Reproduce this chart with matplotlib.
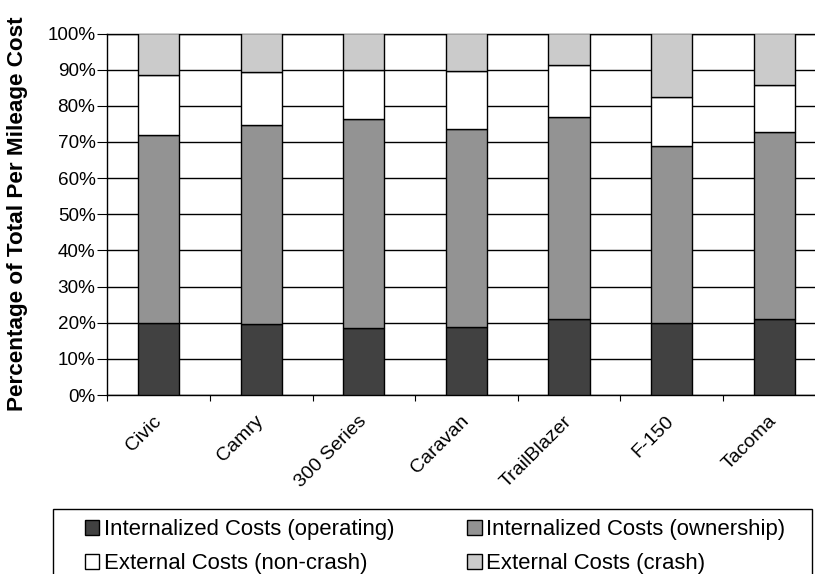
import matplotlib
matplotlib.use("Agg")
import matplotlib.pyplot as plt
import numpy as np
from matplotlib.patches import Rectangle
from matplotlib.ticker import FixedLocator, PercentFormatter

plt.rcParams["font.family"] = ["Liberation Sans", "DejaVu Sans"]

# Share of total per-mile cost (%)
vehicles = ["Civic", "Camry", "300 Series", "Caravan", "TrailBlazer", "F-150", "Tacoma"]
operating = [19.8, 19.6, 18.6, 18.8, 21.0, 19.8, 20.9]
ownership = [52.1, 55.1, 57.7, 54.7, 56.0, 49.1, 51.9]
non_crash = [16.5, 14.6, 13.6, 16.2, 14.3, 13.6, 12.9]
crash = [11.6, 10.7, 10.1, 10.3, 8.7, 17.5, 14.3]

series = [
    ("Internalized Costs (operating)", operating, "#414141"),
    ("Internalized Costs (ownership)", ownership, "#939393"),
    ("External Costs (non-crash)", non_crash, "#ffffff"),
    ("External Costs (crash)", crash, "#cbcbcb"),
]

W, H = 815, 574
fig = plt.figure(figsize=(W / 100, H / 100), dpi=100)
# plot area runs past the right edge, as in the (cropped) original
ax = fig.add_axes([107.3 / W, 1 - 395 / H, 718.2 / W, 361.5 / H])

x = np.arange(len(vehicles))
bottom = np.zeros(len(vehicles))
handles = []
for label, vals, color in series:
    vals = np.asarray(vals)
    b = ax.bar(x, vals, 0.4, bottom=bottom, color=color, edgecolor="black",
               linewidth=1.0, label=label, zorder=3)
    handles.append(b)
    bottom += vals

ax.set_xlim(-0.5, len(vehicles) - 0.5)
ax.set_ylim(0, 100)
ax.set_yticks(np.arange(0, 101, 10))
ax.yaxis.set_major_formatter(PercentFormatter(decimals=0))
ax.grid(axis="y", color="black", linewidth=1.0, zorder=0)
ax.tick_params(axis="y", direction="out", length=7, width=0.8, pad=1.5,
               labelsize=13.6, colors="black")

# ticks between categories, labels centred under bars
ax.xaxis.set_major_locator(FixedLocator(np.arange(-0.5, len(vehicles), 1.0)))
ax.xaxis.set_major_formatter(plt.NullFormatter())
ax.xaxis.set_minor_locator(FixedLocator(x))
ax.set_xticklabels(vehicles, minor=True)
ax.tick_params(axis="x", which="major", direction="out", length=4.5, width=0.8)
ax.tick_params(axis="x", which="minor", length=0, pad=17, labelsize=14)
for t in ax.get_xticklabels(minor=True):
    t.set_rotation(45)
    t.set_rotation_mode("anchor")
    t.set_ha("right")
    t.set_va("center")

for side in ["left", "bottom", "top", "right"]:
    ax.spines[side].set_color("black")
    ax.spines[side].set_linewidth(1.0)

fig.text(18 / W, 1 - 214 / H, "Percentage of Total Per Mileage Cost",
         rotation=90, ha="center", va="center", fontsize=16.2, fontweight="bold")

# legend box (cropped at the bottom in the original)
fig.patches.append(Rectangle((53 / W, -0.05), 759 / W, 1 - 509 / H + 0.05,
                             transform=fig.transFigure, facecolor="white",
                             edgecolor="black", linewidth=1.0))

# legend fills row by row: operating, ownership / non-crash, crash
order = [0, 2, 1, 3]
leg = fig.legend(handles=[handles[i] for i in order], loc="upper left", ncol=2,
                 bbox_to_anchor=(85 / W, 1 - 519 / H),
                 fontsize=15.9, frameon=False, handlelength=0.65, handleheight=0.65,
                 handletextpad=0.2, labelspacing=0.6, borderpad=0,
                 borderaxespad=0, columnspacing=3.3)

fig.savefig("out.png", dpi=100)
